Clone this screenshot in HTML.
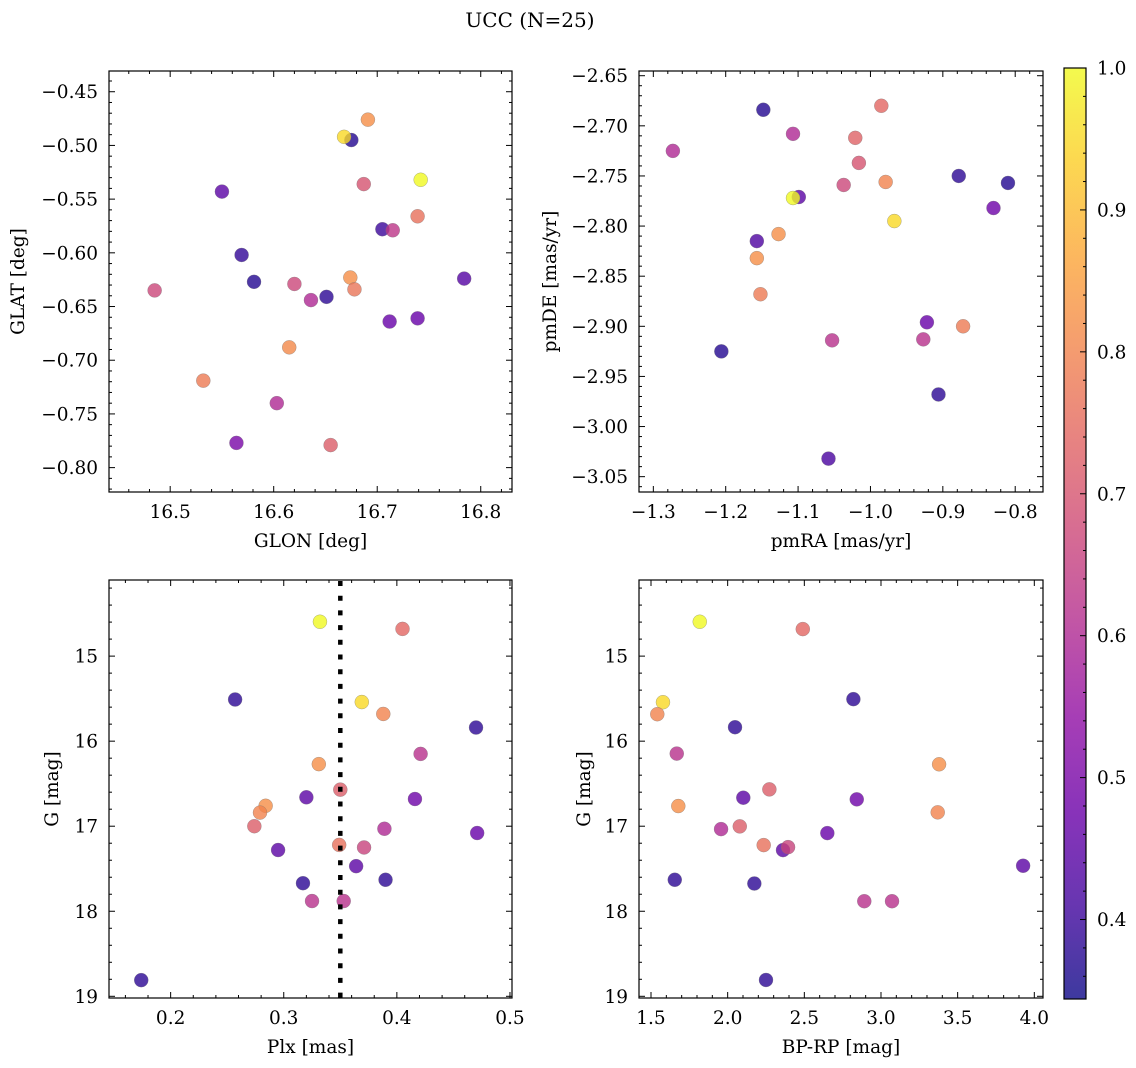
<!DOCTYPE html>
<html><head><meta charset="utf-8"><style>
html,body{margin:0;padding:0;background:#fff;}
svg{display:block;font-family:"DejaVu Serif","Liberation Serif",serif;}
</style></head><body>
<svg id="fig" width="1136" height="1068" viewBox="0 0 1136 1068">
<text x="530" y="27" font-size="20" text-anchor="middle">UCC (N=25)</text>
</svg>
<script>
// Panel 1: GLON vs GLAT
const glon1 = [16.691,16.675,16.668,16.742,16.687,16.550,16.739,16.705,16.715,16.569,16.581,16.620,16.674,16.678,16.485,16.636,16.651,16.784,16.712,16.739,16.615,16.532,16.603,16.564,16.655];
const glat1 = [-0.476,-0.495,-0.492,-0.532,-0.536,-0.543,-0.566,-0.578,-0.579,-0.602,-0.627,-0.629,-0.623,-0.634,-0.635,-0.644,-0.641,-0.624,-0.664,-0.661,-0.688,-0.719,-0.740,-0.777,-0.779];
const prob1 = [0.82,0.37,0.95,1.0,0.70,0.45,0.76,0.40,0.63,0.39,0.37,0.67,0.82,0.77,0.67,0.60,0.38,0.44,0.47,0.47,0.81,0.78,0.60,0.50,0.72];
// Panel 2: pmRA vs pmDE
const pmra2 = [-1.273,-1.148,-1.107,-0.985,-1.021,-1.016,-1.037,-0.979,-1.099,-1.107,-0.967,-0.878,-0.810,-0.830,-1.157,-1.127,-1.157,-1.152,-1.206,-1.053,-0.922,-0.927,-0.872,-0.906,-1.058];
const pmde2 = [-2.725,-2.684,-2.708,-2.680,-2.712,-2.737,-2.759,-2.756,-2.771,-2.772,-2.795,-2.750,-2.757,-2.782,-2.815,-2.808,-2.832,-2.868,-2.925,-2.914,-2.896,-2.913,-2.900,-2.968,-3.032];
const prob2 = [0.60,0.37,0.60,0.74,0.73,0.70,0.67,0.80,0.45,1.0,0.95,0.38,0.37,0.48,0.43,0.82,0.82,0.78,0.37,0.62,0.47,0.62,0.78,0.38,0.42];
// Panel 3: Plx vs G
const plx3 = [0.332,0.405,0.257,0.369,0.388,0.470,0.421,0.331,0.350,0.320,0.416,0.284,0.279,0.274,0.389,0.471,0.349,0.371,0.295,0.364,0.390,0.317,0.325,0.353,0.174];
const g3 = [14.596,14.68,15.51,15.54,15.68,15.84,16.15,16.27,16.57,16.66,16.68,16.76,16.84,17.00,17.03,17.08,17.22,17.25,17.28,17.47,17.63,17.67,17.88,17.88,18.81];
const prob3 = [1.0,0.74,0.38,0.95,0.80,0.38,0.62,0.82,0.72,0.45,0.48,0.82,0.80,0.72,0.60,0.47,0.76,0.66,0.45,0.45,0.38,0.38,0.62,0.62,0.38];
// Panel 4: BP-RP vs G
const bprp4 = [1.818,2.490,2.820,1.578,1.541,2.048,1.668,3.379,2.272,2.102,2.842,1.678,3.370,2.079,1.957,2.650,2.235,2.361,2.394,3.927,1.655,2.174,2.891,3.072,2.250];
const g4 = [14.596,14.682,15.506,15.542,15.683,15.836,16.146,16.272,16.567,16.665,16.684,16.763,16.837,17.002,17.034,17.081,17.222,17.281,17.246,17.465,17.630,17.674,17.882,17.882,18.808];
const prob4 = [1.0,0.74,0.38,0.95,0.80,0.38,0.62,0.82,0.72,0.45,0.48,0.82,0.80,0.72,0.60,0.47,0.76,0.45,0.66,0.45,0.38,0.38,0.62,0.62,0.38];
const plxLine = [0.35];
const cbTicks = [0.4,0.5,0.6,0.7,0.8,0.9,1.0];
const cmin = 0.344, cmax = 1.0;

const NS = "http://www.w3.org/2000/svg";
const svg = document.getElementById('fig');
const FS = 18.5;
function mk(tag, attrs, parent){
  const e = document.createElementNS(NS, tag);
  for (const k in attrs) e.setAttribute(k, attrs[k]);
  (parent||svg).appendChild(e);
  return e;
}
const stops = [[0,[13,8,135]],[0.1,[65,4,157]],[0.2,[106,0,168]],[0.3,[143,13,164]],[0.4,[177,42,144]],[0.5,[204,71,120]],[0.6,[225,100,98]],[0.7,[242,132,75]],[0.8,[252,166,54]],[0.9,[252,206,37]],[1.0,[240,249,33]]];
function plasma(t){
  t = Math.max(0, Math.min(1, t));
  for (let i=1;i<stops.length;i++){
    if (t <= stops[i][0]){
      const a=stops[i-1], b=stops[i], f=(t-a[0])/(b[0]-a[0]);
      const c=a[1].map((v,j)=>Math.round(v+(b[1][j]-v)*f));
      return 'rgb('+c.join(',')+')';
    }
  }
  return 'rgb(240,249,33)';
}
function cnorm(v){ return (v-cmin)/(cmax-cmin); }
function fmt(v, d){ let s = v.toFixed(d); if (v < 0) s = '\u2212' + s.slice(1); return s; }

function panel(o){
  const {L,T,R,B,x0,x1,y0,y1,inv} = o;
  const sx = v => L + (v-x0)/(x1-x0)*(R-L);
  const sy = inv ? (v => T + (v-y0)/(y1-y0)*(B-T)) : (v => B - (v-y0)/(y1-y0)*(B-T));
  const g = mk('g', {});
  
  
  const tg = mk('g', {stroke:'#000','stroke-width':1}, g);
  for (let v = Math.ceil(x0/o.xmin-1e-9)*o.xmin; v <= x1+1e-9; v += o.xmin){
    const isMaj = Math.abs(v/o.xmaj - Math.round(v/o.xmaj)) < 1e-6;
    const len = isMaj ? 6 : 3, x = sx(v);
    mk('line',{x1:x,x2:x,y1:B,y2:B-len},tg); mk('line',{x1:x,x2:x,y1:T,y2:T+len},tg);
    if (isMaj){
      const t = mk('text',{x:x,y:B+26,'font-size':FS,'text-anchor':'middle',stroke:'none',fill:'#000'},g);
      t.textContent = fmt(v, o.xd);
       
    }
  }
  const ylo = Math.min(y0,y1), yhi = Math.max(y0,y1);
  for (let v = Math.ceil(ylo/o.ymin-1e-9)*o.ymin; v <= yhi+1e-9; v += o.ymin){
    const isMaj = Math.abs(v/o.ymaj - Math.round(v/o.ymaj)) < 1e-6;
    const len = isMaj ? 6 : 3, y = sy(v);
    mk('line',{x1:L,x2:L+len,y1:y,y2:y},tg); mk('line',{x1:R,x2:R-len,y1:y,y2:y},tg);
    if (isMaj){
      const t = mk('text',{x:L-11,y:y+6.5,'font-size':FS,'text-anchor':'end',stroke:'none',fill:'#000'},g);
      t.textContent = fmt(v, o.yd);
       
    }
  }
  for (let i=0;i<o.xs.length;i++){
    const c = mk('circle',{cx:sx(o.xs[i]),cy:sy(o.ys[i]),r:7,fill:plasma(cnorm(o.cs[i])),'fill-opacity':0.8,stroke:'#777','stroke-opacity':0.6,'stroke-width':0.5},g);
     
  }
  if (o.vline){
    o.vline.forEach(v=>{
      const l = mk('line',{x1:sx(v),x2:sx(v),y1:T+1,y2:B,stroke:'#000','stroke-width':4.5,'stroke-dasharray':'5 9.7'},g);
       
    });
  }
  const fr = mk('rect',{x:L,y:T,width:R-L,height:B-T,fill:'none',stroke:'#000','stroke-width':1.2},g);
   
  const xl = mk('text',{x:(L+R)/2,y:B+55,'font-size':FS,'text-anchor':'middle'},g);
  xl.textContent = o.xlabel;
   
  const yx = o.ylx, yy = (T+B)/2;
  const yl = mk('text',{x:yx,y:yy,'font-size':FS,'text-anchor':'middle',transform:'rotate(-90 '+yx+' '+yy+')'},g);
  yl.textContent = o.ylabel;
   
}

panel({name:'glon-glat-panel',L:109,T:71,R:512,B:492,x0:16.4409,x1:16.8302,y0:-0.8227,y1:-0.4307,
  xmaj:0.1,xmin:0.02,xd:1,ymaj:0.05,ymin:0.01,yd:2,xs:glon1,ys:glat1,cs:prob1,xlabel:'GLON [deg]',ylabel:'GLAT [deg]',ylx:24});
panel({name:'pm-panel',L:639,T:71,R:1043,B:492,x0:-1.3198,x1:-0.7616,y0:-3.0653,y1:-2.6453,
  xmaj:0.1,xmin:0.02,xd:1,ymaj:0.05,ymin:0.01,yd:2,xs:pmra2,ys:pmde2,cs:prob2,xlabel:'pmRA [mas/yr]',ylabel:'pmDE [mas/yr]',ylx:556});
panel({name:'plx-g-panel',L:109,T:580,R:512,B:998,x0:0.1455,x1:0.5018,y0:14.105,y1:19.02,inv:true,
  xmaj:0.1,xmin:0.02,xd:1,ymaj:1,ymin:0.2,yd:0,xs:plx3,ys:g3,cs:prob3,xlabel:'Plx [mas]',ylabel:'G [mag]',ylx:58,vline:plxLine});
panel({name:'cmd-panel',L:639,T:580,R:1043,B:998,x0:1.4217,x1:4.0567,y0:14.105,y1:19.02,inv:true,
  xmaj:0.5,xmin:0.1,xd:1,ymaj:1,ymin:0.2,yd:0,xs:bprp4,ys:g4,cs:prob4,xlabel:'BP-RP [mag]',ylabel:'G [mag]',ylx:590});

// Colorbar
(function(){
  const L=1064,R=1086,T=68,B=999;
  const g = mk('g',{});
   
  const defs = mk('defs',{},g);
  const lg = mk('linearGradient',{id:'cbg',x1:0,y1:1,x2:0,y2:0},defs);
  for (let i=0;i<=20;i++){ const t=i/20; mk('stop',{offset:t,'stop-color':plasma(t)},lg); }
  mk('rect',{x:L,y:T,width:R-L,height:B-T,fill:'url(#cbg)','fill-opacity':0.8},g);
  const sy = v => B - (v-cmin)/(cmax-cmin)*(B-T);
  for (let v=0.36; v<=1.0001; v+=0.02){
    const isMaj = Math.abs(v*10-Math.round(v*10))<1e-6;
    mk('line',{x1:R,x2:R-(isMaj?6:3),y1:sy(v),y2:sy(v),stroke:'#000','stroke-width':1},g);
  }
  cbTicks.forEach(v=>{
    const t = mk('text',{x:R+11,y:sy(v)+6.5,'font-size':FS},g);
    t.textContent = v.toFixed(1);
     
  });
  mk('rect',{x:L,y:T,width:R-L,height:B-T,fill:'none',stroke:'#000','stroke-width':1.2},g);
})();
</script>
</body></html>
